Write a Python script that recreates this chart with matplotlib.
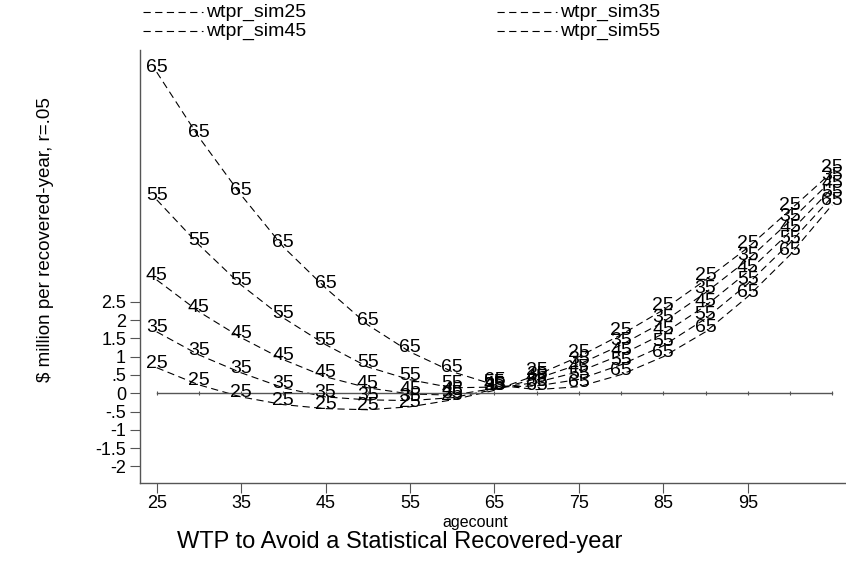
import matplotlib.pyplot as plt
from matplotlib.lines import Line2D

ages = [25, 30, 35, 40, 45, 50, 55, 60, 65, 70, 75, 80, 85, 90, 95, 100, 105]

wtpr_sim25 = [0.70, 0.23, -0.10, -0.31, -0.42, -0.45, -0.37, -0.18, 0.08,
              0.50, 1.00, 1.60, 2.28, 3.10, 3.98, 5.01, 6.05]
wtpr_sim35 = [1.68, 1.05, 0.56, 0.15, -0.10, -0.18, -0.20, -0.12, 0.10,
              0.40, 0.79, 1.32, 1.95, 2.75, 3.65, 4.71, 5.83]
wtpr_sim45 = [3.10, 2.23, 1.52, 0.92, 0.45, 0.15, -0.02, -0.05, 0.13,
              0.30, 0.59, 1.05, 1.63, 2.39, 3.32, 4.41, 5.61]
wtpr_sim55 = [5.29, 4.06, 2.96, 2.06, 1.33, 0.72, 0.37, 0.15, 0.17,
              0.20, 0.38, 0.78, 1.30, 2.04, 2.99, 4.11, 5.37]
wtpr_sim65 = [8.78, 7.00, 5.42, 4.00, 2.88, 1.87, 1.13, 0.59, 0.23,
              0.10, 0.18, 0.51, 1.00, 1.68, 2.64, 3.78, 5.15]

series = [("25", wtpr_sim25), ("35", wtpr_sim35), ("45", wtpr_sim45),
          ("55", wtpr_sim55), ("65", wtpr_sim65)]
zero = [0] * len(ages)

yticks = [2.5, 2, 1.5, 1, 0.5, 0, -0.5, -1, -1.5, -2]
ytick_labels = ["2.5", "2", "1.5", "1", ".5", "0", "-.5", "-1", "-1.5", "-2"]
xticks = [25, 35, 45, 55, 65, 75, 85, 95]
legend_names = ["wtpr_sim25", "wtpr_sim35", "wtpr_sim45", "wtpr_sim55"]

plt.rcParams['font.family'] = ['Liberation Sans', 'DejaVu Sans']

W, H = 846, 563
fig = plt.figure(figsize=(W / 100, H / 100), dpi=100)
ax = fig.add_axes([140 / W, 1 - 483 / H, 1 - 140 / W, (483 - 50) / H])

dash = (6.5, 4)
for lab, vals in series:
    ax.plot(ages, vals, color='black', lw=0.8, dashes=dash)
    for x, y in zip(ages, vals):
        ax.text(x, y, lab, ha='center', va='baseline', fontsize=14, color='black')

# zero reference line with small ticks at each age
ax.plot(ages, zero, color='#555555', lw=1.0, marker='|', markersize=3, mew=0.8)

ax.set_xlim(23.02, 106.64)
ax.set_ylim(-2.453, 9.385)
ax.set_xticks(xticks)
ax.set_yticks(yticks)
ax.set_yticklabels(ytick_labels)
ax.tick_params(direction='out', length=7, width=0.8, color='#555555', labelsize=13)
ax.tick_params(axis='y', pad=3)
ax.tick_params(axis='x', pad=2)
for s in ['top', 'right']:
    ax.spines[s].set_visible(False)
for s in ['left', 'bottom']:
    ax.spines[s].set_color('#555555')
    ax.spines[s].set_linewidth(1.0)

fig.text(475 / W, 1 - 522 / H, "agecount", ha='center', va='center', fontsize=11.5)
fig.text(400 / W, 1 - 542 / H, "WTP to Avoid a Statistical Recovered-year",
         ha='center', va='center', fontsize=17)
fig.text(45 / W, 1 - 240 / H, "$ million per recovered-year, r=.05",
         ha='center', va='center', rotation=90, fontsize=13.5)

# legend: two columns, two rows
legend_pos = [(143, 12), (497, 12), (143, 31), (497, 31)]
for name, (lx, ly) in zip(legend_names, legend_pos):
    fig.add_artist(Line2D([lx / W, (lx + 60) / W], [1 - ly / H, 1 - ly / H],
                          transform=fig.transFigure, color='black', lw=0.8,
                          dashes=dash))
    fig.text((lx + 63) / W, 1 - ly / H, name, ha='left', va='center', fontsize=14)

fig.savefig("out.png", dpi=100)
